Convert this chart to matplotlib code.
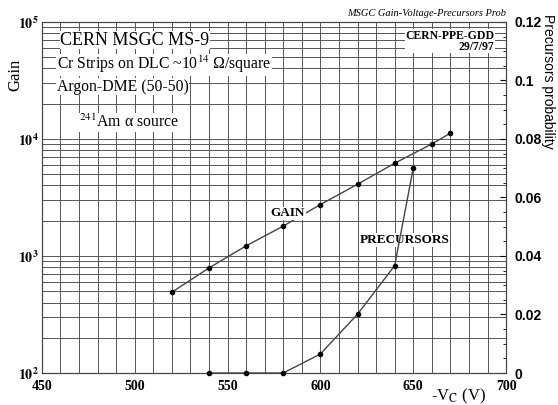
import matplotlib
matplotlib.use('Agg')
import numpy as np
from matplotlib import pyplot as plt
from matplotlib.ticker import FixedLocator, LogLocator, MultipleLocator, NullFormatter

plt.rcParams['font.family'] = ['Liberation Serif', 'DejaVu Serif']
plt.rcParams['mathtext.fontset'] = 'stix'

VOLTAGE_GAIN = [520, 540, 560, 580, 600, 620, 640, 660, 670]
GAIN = [490, 790, 1220, 1800, 2750, 4100, 6200, 9050, 11200]

VOLTAGE_PREC = [540, 560, 580, 600, 620, 640, 650]
PRECURSORS = [0.0, 0.0, 0.0, 0.0065, 0.0201, 0.0367, 0.070]

X_TICKS = [450, 500, 550, 600, 650, 700]
GAIN_TICKS = [1e2, 1e3, 1e4, 1e5]
GAIN_TICK_LABELS = [r'$\mathbf{10^2}$', r'$\mathbf{10^3}$', r'$\mathbf{10^4}$', r'$\mathbf{10^5}$']
PREC_TICKS = [0, 0.02, 0.04, 0.06, 0.08, 0.1, 0.12]
PREC_TICK_LABELS = ['0', '0.02', '0.04', '0.06', '0.08', '0.1', '0.12']

SANS = ['Liberation Sans', 'DejaVu Sans']

fig = plt.figure(figsize=(5.58, 4.05), dpi=100)
ax = fig.add_axes([0.075, 0.079, 0.832, 0.867])
ax.set_yscale('log')
ax.set_xlim(450, 700)
ax.set_ylim(1e2, 1e5)

grid_kw = dict(color='#555555', lw=0.7)
ax.xaxis.set_minor_locator(MultipleLocator(10))
ax.yaxis.set_minor_locator(LogLocator(base=10, subs=np.arange(2, 10)))
ax.yaxis.set_minor_formatter(NullFormatter())
ax.grid(which='both', axis='both', **grid_kw)
ax.set_axisbelow(True)

ax.set_xticks(X_TICKS)
ax.set_xticklabels([str(v) for v in X_TICKS], fontweight='bold', fontsize=10)
ax.yaxis.set_major_locator(FixedLocator(GAIN_TICKS))
ax.set_yticklabels(GAIN_TICK_LABELS, fontsize=10)
ax.tick_params(axis='x', which='both', length=0, pad=5)
ax.tick_params(axis='y', which='both', length=0, pad=2)

ax.plot(VOLTAGE_GAIN, GAIN, color='#444444', lw=1, marker='o', ms=3,
        mfc='black', mec='black', zorder=3)

ax2 = ax.twinx()
ax2.set_ylim(0, 0.12)
ax2.set_yticks(PREC_TICKS)
ax2.set_yticklabels(PREC_TICK_LABELS, family=SANS, fontweight='bold', fontsize=10)
ax2.yaxis.set_minor_locator(MultipleLocator(0.005))
ax2.tick_params(which='major', length=4, direction='in', pad=6)
ax2.tick_params(which='minor', length=2, direction='in')
ax2.plot(VOLTAGE_PREC, PRECURSORS, color='#444444', lw=1, marker='o', ms=3,
         mfc='black', mec='black', clip_on=False, zorder=3)

for spine in list(ax.spines.values()) + list(ax2.spines.values()):
    spine.set_color('#444444')
    spine.set_linewidth(0.8)

# axis titles sit near the top, as in the original scan
fig.text(0.027, 0.815, 'Gain', rotation=90, fontsize=12, ha='center', va='center')
fig.text(0.982, 0.965, 'Precursors probability', rotation=-90, fontsize=10,
         family=SANS, ha='center', va='top')
fig.text(0.822, 0.012, r'-V$_{\rm C}$ (V)', fontsize=12, ha='center')

box = dict(facecolor='white', edgecolor='none', pad=0.5)
ax.text(0.04, 0.972, 'CERN MSGC MS-9', transform=ax.transAxes, fontsize=13,
        va='top', bbox=box)
ax.text(0.032, 0.908, 'Cr Strips on DLC ~10$^{14}$ Ω/square',
        transform=ax.transAxes, fontsize=11.3, va='top', bbox=box)
ax.text(0.032, 0.838, 'Argon-DME (50-50)', transform=ax.transAxes, fontsize=11.3,
        va='top', bbox=box)
ax.text(0.08, 0.738, '$^{241}$Am α source', transform=ax.transAxes,
        fontsize=11.3, va='top', bbox=box)
ax.text(0.975, 0.978, 'CERN-PPE-GDD\n29/7/97', transform=ax.transAxes,
        fontsize=8.5, fontweight='bold', va='top', ha='right', linespacing=0.9,
        bbox=box)
ax.text(0.53, 0.455, 'GAIN', transform=ax.transAxes, fontsize=9.5,
        fontweight='bold', ha='center', va='center', bbox=box)
ax.text(0.782, 0.379, 'PRECURSORS', transform=ax.transAxes, fontsize=9.5,
        fontweight='bold', ha='center', va='center', bbox=box)
ax.text(1.0, 1.012, 'MSGC Gain-Voltage-Precursors Prob', transform=ax.transAxes,
        fontsize=7.5, style='italic', ha='right', va='bottom')

fig.savefig('out.png', dpi=100)
plt.close(fig)
